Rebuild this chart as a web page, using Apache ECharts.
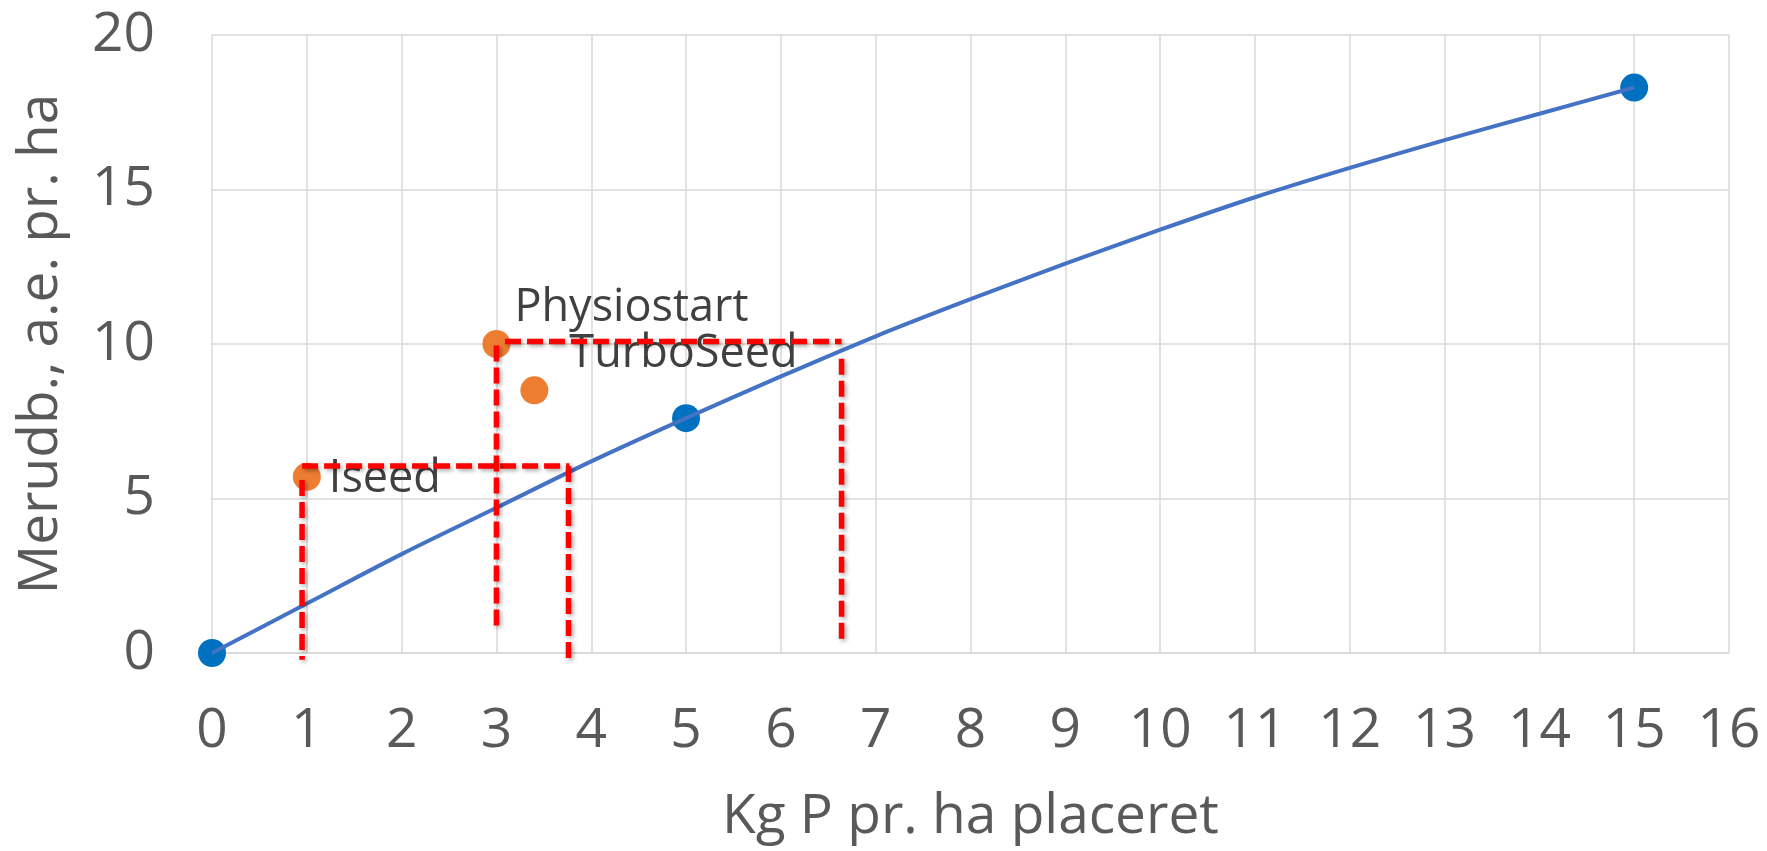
<!DOCTYPE html>
<html><head><meta charset="utf-8">
<script src="https://cdn.jsdelivr.net/npm/echarts@6/dist/echarts.min.js"></script>
<style>html,body{margin:0;padding:0;background:#fff}#c{width:1767px;height:851px}</style>
</head><body><div id="c"></div>
<script>
// Fitted response curve (at each integer x)
const curveX = [0, 1, 2, 3, 4, 5, 6, 7, 8, 9, 10, 11, 12, 13, 14, 15];
const curveY = [0, 1.6, 3.2, 4.7, 6.2, 7.6, 8.95, 10.25, 11.45, 12.6, 13.7, 14.75, 15.7, 16.6, 17.45, 18.3];
// Measured trial points (blue)
const trialX = [0, 5, 15];
const trialY = [0, 7.6, 18.3];
// Products (orange)
const productNames = ['Iseed', 'Physiostart', 'TurboSeed'];
const productX = [1, 3, 3.4];
const productY = [5.7, 10, 8.5];
// Red dashed guide segments [[x1,y1],[x2,y2]]
const guideSegments = [
  [[0.95, 5.6], [0.95, -0.22]],
  [[0.95, 6.05], [3.77, 6.05]],
  [[3.76, 6.05], [3.76, -0.22]],
  [[3.0, 9.95], [3.0, 0.71]],
  [[3.09, 10.08], [6.64, 10.08]],
  [[6.64, 9.52], [6.64, 0.3]]
];
// Axis settings
const xMin = 0, xMax = 16, xStep = 1;
const yMin = 0, yMax = 20, yStep = 5;
const xTitle = 'Kg P pr. ha placeret';
const yTitle = 'Merudb., a.e. pr. ha';

// label placement (style only)
const labelOffsets = [[8, 2], [4, -36], [21, -36]];

const FONT = "'Open Sans', 'Noto Sans', sans-serif";
const chart = echarts.init(document.getElementById('c'), null, {renderer: 'canvas'});

const series = [];
series.push({
  type: 'scatter', z: 2,
  data: trialX.map((x, i) => [x, trialY[i]]),
  symbolSize: 28,
  itemStyle: {color: '#0070C0', opacity: 1}
});
series.push({
  type: 'line', z: 3,
  data: curveX.map((x, i) => [x, curveY[i]]),
  smooth: 0.3, showSymbol: false, symbol: 'none',
  lineStyle: {color: '#4472C4', width: 4}
});
series.push({
  type: 'scatter', z: 4,
  data: productX.map((x, i) => ({
    name: productNames[i], value: [x, productY[i]],
    label: {offset: labelOffsets[i]}
  })),
  symbolSize: 28,
  itemStyle: {color: '#ED7D31', opacity: 1},
  label: {
    show: true, position: 'right', distance: 0,
    formatter: p => p.name,
    fontFamily: FONT, fontSize: 45, color: '#404040'
  }
});
guideSegments.forEach(seg => {
  series.push({
    type: 'line', z: 6, clip: false,
    data: seg, showSymbol: false, symbol: 'none',
    lineStyle: {
      color: '#FF0000', width: 5.5, type: [16, 6], cap: 'butt',
      shadowColor: 'rgba(0,0,0,0.35)', shadowBlur: 4, shadowOffsetX: 2, shadowOffsetY: 2
    }
  });
});

chart.setOption({
  animation: false,
  backgroundColor: '#ffffff',
  grid: {left: 212, right: 38, top: 35, bottom: 198, containLabel: false},
  xAxis: {
    type: 'value', min: xMin, max: xMax, interval: xStep,
    name: xTitle, nameLocation: 'middle', nameGap: 137,
    nameTextStyle: {fontFamily: FONT, fontSize: 55, color: '#595959'},
    axisLine: {show: true, lineStyle: {color: '#D9D9D9', width: 1.5}},
    axisTick: {show: false},
    axisLabel: {fontFamily: FONT, fontSize: 55, color: '#595959', margin: 51},
    splitLine: {show: true, lineStyle: {color: '#D9D9D9', width: 1.5}}
  },
  yAxis: {
    type: 'value', min: yMin, max: yMax, interval: yStep,
    name: yTitle, nameLocation: 'middle', nameGap: 143,
    nameTextStyle: {fontFamily: FONT, fontSize: 55, color: '#595959'},
    axisLine: {show: false},
    axisTick: {show: false},
    axisLabel: {fontFamily: FONT, fontSize: 55, color: '#595959', margin: 57},
    splitLine: {show: true, lineStyle: {color: '#D9D9D9', width: 1.5}}
  },
  series: series
});
</script>
</body></html>
